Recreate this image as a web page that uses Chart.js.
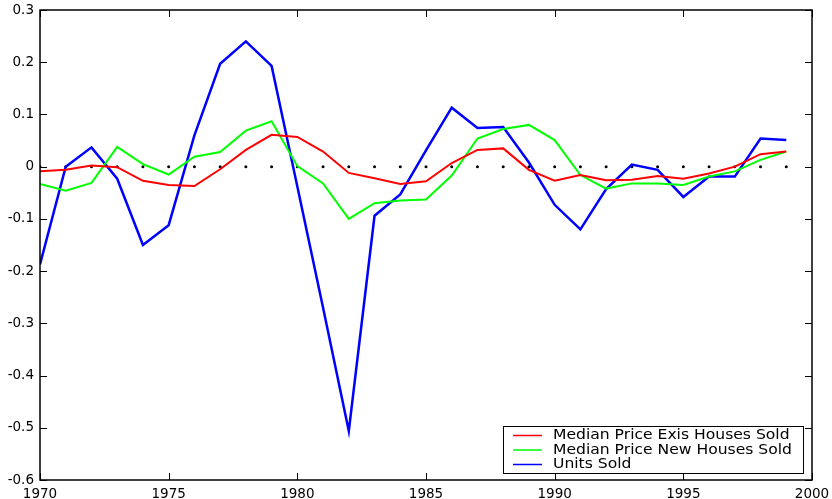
<!DOCTYPE html>
<html>
<head>
<meta charset="utf-8">
<script src="https://cdn.jsdelivr.net/npm/chart.js@4"></script>
<style>
  html, body { margin: 0; padding: 0; background: #fff; }
  #wrap { width: 832px; height: 499px; }
</style>
</head>
<body>
<div id="wrap"><canvas id="corrChart" width="832" height="499"></canvas></div>
<script>
// years 1970..1999
const years = [1970, 1971, 1972, 1973, 1974, 1975, 1976, 1977, 1978, 1979,
  1980, 1981, 1982, 1983, 1984, 1985, 1986, 1987, 1988, 1989,
  1990, 1991, 1992, 1993, 1994, 1995, 1996, 1997, 1998, 1999];

const priceExisting = [-0.009, -0.006, 0.002, -0.001, -0.027, -0.035, -0.037, -0.005, 0.032, 0.061,
  0.057, 0.029, -0.012, -0.022, -0.033, -0.028, 0.007, 0.032, 0.035, -0.006,
  -0.027, -0.016, -0.026, -0.025, -0.018, -0.023, -0.013, 0.0, 0.024, 0.029];

const priceNew = [-0.033, -0.046, -0.031, 0.038, 0.005, -0.015, 0.019, 0.028, 0.069, 0.087,
  0.001, -0.032, -0.1, -0.07, -0.065, -0.063, -0.017, 0.054, 0.072, 0.08,
  0.051, -0.016, -0.042, -0.032, -0.032, -0.035, -0.019, -0.009, 0.013, 0.029];

const unitsSold = [-0.187, 0.0, 0.037, -0.023, -0.15, -0.112, 0.06, 0.197, 0.24, 0.193,
  -0.038, -0.27, -0.506, -0.094, -0.053, 0.031, 0.113, 0.074, 0.076, 0.008,
  -0.073, -0.12, -0.043, 0.004, -0.006, -0.058, -0.019, -0.019, 0.054, 0.051];

const zeroLine = years.map(() => 0);

const xTicks = [1970, 1975, 1980, 1985, 1990, 1995, 2000];
const yTicks = [0.3, 0.2, 0.1, 0, -0.1, -0.2, -0.3, -0.4, -0.5, -0.6];

const legendNames = ['Median Price Exis Houses Sold', 'Median Price New Houses Sold', 'Units Sold'];

function pts(vals) {
  return vals.map((v, i) => ({ x: years[i], y: v }));
}

// box around the plot with inward ticks on all four sides
const frame = {
  id: 'frame',
  afterDatasetsDraw(chart) {
    const ctx = chart.ctx;
    const a = chart.chartArea;
    const xs = chart.scales.x, ys = chart.scales.y;
    const tl = 7;
    ctx.save();
    ctx.strokeStyle = '#000';
    ctx.lineWidth = 1;
    ctx.beginPath();
    xTicks.forEach((t) => {
      const px = Math.round(xs.getPixelForValue(t)) + 0.5;
      ctx.moveTo(px, a.bottom); ctx.lineTo(px, a.bottom - tl);
      ctx.moveTo(px, a.top); ctx.lineTo(px, a.top + tl);
    });
    yTicks.forEach((t) => {
      const py = Math.round(ys.getPixelForValue(t)) + 0.5;
      ctx.moveTo(a.left, py); ctx.lineTo(a.left + tl, py);
      ctx.moveTo(a.right, py); ctx.lineTo(a.right - tl, py);
    });
    ctx.stroke();
    ctx.lineWidth = 1.5;
    ctx.strokeRect(a.left, a.top, a.right - a.left, a.bottom - a.top);
    ctx.restore();
  }
};

// legend box in the lower right corner
const boxLegend = {
  id: 'boxLegend',
  afterDraw(chart) {
    const ctx = chart.ctx;
    const a = chart.chartArea;
    const w = 300, h = 47;
    const x0 = a.right - 9 - w, y0 = a.bottom - 7 - h;
    ctx.save();
    ctx.fillStyle = '#fff';
    ctx.fillRect(x0, y0, w, h);
    ctx.strokeStyle = '#000';
    ctx.lineWidth = 1;
    ctx.strokeRect(x0 + 0.5, y0 + 0.5, w, h);
    ctx.font = '13.5px "DejaVu Sans", sans-serif';
    ctx.textBaseline = 'middle';
    // the original text is a bit wider than the font, stretch it
    const sx = 239 / ctx.measureText(legendNames[1]).width;
    chart.data.datasets.slice(0, 3).forEach((ds, i) => {
      const cy = y0 + 9.5 + i * 14.5;
      ctx.strokeStyle = ds.borderColor;
      ctx.lineWidth = 1.5;
      ctx.beginPath();
      ctx.moveTo(x0 + 10, cy);
      ctx.lineTo(x0 + 39, cy);
      ctx.stroke();
      ctx.save();
      ctx.translate(x0 + 50, cy);
      ctx.scale(sx, 1);
      ctx.fillStyle = '#000';
      ctx.fillText(ds.label, 0, 0);
      ctx.restore();
    });
    ctx.restore();
  }
};

const ctx = document.getElementById('corrChart').getContext('2d');
new Chart(ctx, {
  type: 'line',
  data: {
    datasets: [
      { label: legendNames[0], data: pts(priceExisting), borderColor: '#ff0000', borderWidth: 2, pointRadius: 0, tension: 0 },
      { label: legendNames[1], data: pts(priceNew), borderColor: '#00ff00', borderWidth: 2, pointRadius: 0, tension: 0 },
      { label: legendNames[2], data: pts(unitsSold), borderColor: '#0000ff', borderWidth: 2.5, pointRadius: 0, tension: 0 },
      { label: 'zero', data: pts(zeroLine), showLine: false, pointRadius: 1.5, pointBackgroundColor: '#000', pointBorderWidth: 0, order: 10 }
    ]
  },
  options: {
    responsive: false,
    animation: false,
    layout: { padding: { top: 10, right: 20, left: 0, bottom: 0 } },
    plugins: {
      legend: { display: false },
      tooltip: { enabled: false }
    },
    scales: {
      x: {
        type: 'linear',
        min: 1970,
        max: 2000,
        afterBuildTicks: (s) => { s.ticks = xTicks.map((v) => ({ value: v })); },
        afterFit: (s) => { s.height = 19; s.paddingLeft = 0; s.paddingRight = 0; },
        grid: { display: false, drawTicks: false },
        border: { display: false },
        ticks: {
          color: '#000', padding: 6, maxRotation: 0,
          font: { family: 'DejaVu Sans', size: 13.5 },
          callback: (v) => String(v)
        }
      },
      y: {
        min: -0.6,
        max: 0.3,
        afterBuildTicks: (s) => { s.ticks = yTicks.map((v) => ({ value: v })); },
        afterFit: (s) => { s.width = 40; s.paddingTop = 0; s.paddingBottom = 0; },
        grid: { display: false, drawTicks: false },
        border: { display: false },
        ticks: {
          color: '#000',
          padding: 6,
          font: { family: 'DejaVu Sans', size: 13.5 },
          callback: (v) => String(Number(v.toFixed(1)))
        }
      }
    }
  },
  plugins: [frame, boxLegend]
});
</script>
</body>
</html>
